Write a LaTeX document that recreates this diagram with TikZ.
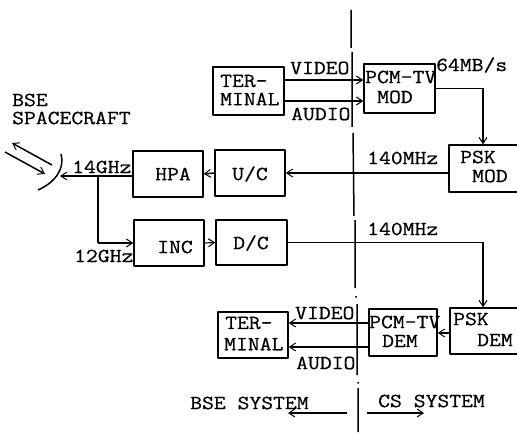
\documentclass[tikz,border=0pt]{standalone}
\usepackage{fontspec}
\setmainfont{Latin Modern Mono}[FakeStretch=1.15,FakeBold=0.6]
\usetikzlibrary{arrows.meta}
\tikzset{
  x=1pt,y=-1pt,
  block/.style={draw=black,line width=1.5pt,rectangle,inner sep=0pt,line join=round},
  lbl/.style={inner sep=0pt,font=\fontsize{20}{20}\selectfont,text=black},
  conn/.style={line width=1.5pt,draw=black,-{Straight Barb[length=6pt,width=8pt,line width=1pt]}},
  thin conn/.style={conn,line width=1.1pt},
  plainline/.style={line width=1.5pt,draw=black},
  divider/.style={line width=1.5pt,draw=black},
}
\newcommand{\boxat}[5]{\node[block,minimum width=#4-#2,minimum height=#5-#3] (#1) at ({(#2+#4)/2},{(#3+#5)/2}) {};}
\begin{document}
\begin{tikzpicture}
\useasboundingbox (0,0) rectangle (517,433);
% blocks
\boxat{term1}{213}{67}{284}{115}
\boxat{pcmmod}{364}{64}{435}{113}
\boxat{pskmod}{449}{145}{540}{192}
\boxat{hpa}{133}{151}{203}{197}
\boxat{uc}{215}{150}{285}{196}
\boxat{inc}{134}{220}{204}{266}
\boxat{dc}{216}{220}{287}{265}
\boxat{term2}{218}{312}{288}{358}
\boxat{pcmdem}{369}{309}{437}{356}
\boxat{pskdem}{450}{308}{540}{354}
% divider
\coordinate (d1) at (351,10); \coordinate (d2) at (351,48);
\coordinate (d3) at (352,52); \coordinate (d4) at (352,127);
\coordinate (d5) at (353,133); \coordinate (d6) at (354,216);
\coordinate (d7) at (355,220); \coordinate (d8) at (355,288);
\coordinate (d9) at (356,296); \coordinate (d10) at (356,297.5);
\coordinate (d11) at (357,304); \coordinate (d12) at (357,375);
\coordinate (d13) at (358,382); \coordinate (d14) at (358,383.5);
\coordinate (d15) at (358,388); \coordinate (d16) at (358,432);
\draw[divider] (d1)--(d2) (d3)--(d4) (d5)--(d6) (d7)--(d8) (d9)--(d10) (d11)--(d12) (d13)--(d14) (d15)--(d16);
% connectors
\draw[conn] ([yshift=11pt]term1.east) -- ([yshift=11pt]term1.east -| pcmmod.west);
\draw[conn] ([yshift=-10pt]term1.east) -- ([yshift=-10pt]term1.east -| pcmmod.west);
\draw[conn] (pcmmod.east) -| (pskmod.north -| {(483,0)});
\draw[conn] (pskmod.west |- uc.east) -- (uc.east);
\draw[conn] (uc.west) -- (hpa.east);
\coordinate (feed) at (60,176);
\coordinate (junc) at (98,176);
\draw[conn] (hpa.west |- feed) -- (feed);
\draw[plainline] (junc) |- (junc |- inc.west);
\draw[conn] (junc |- inc.west) -- (inc.west);
\draw[thin conn] (inc.east) -- (dc.west);
\draw[conn] (dc.east) -| (pskdem.north -| {(483,0)});
\draw[thin conn] (pskdem.west |- 0,333) -- (pcmdem.east |- 0,333);
\draw[thin conn] (pcmdem.west |- 0,323) -- (term2.east |- 0,323);
\draw[thin conn] (pcmdem.west |- 0,347) -- (term2.east |- 0,347);
% antenna
\coordinate (a1) at (61,154); \coordinate (a2) at (38,190);
\draw[plainline] (a1) .. controls (65,168) and (56,182) .. (a2);
\coordinate (b1) at (52,165); \coordinate (b2) at (12,143);
\coordinate (c1) at (5,152); \coordinate (c2) at (45,174);
\draw[conn] (b1) -- (b2);
\draw[conn] (c1) -- (c2);
% system arrows
\coordinate (sysmid1) at (347,413); \coordinate (sysl) at (288,413);
\coordinate (sysmid2) at (367,413); \coordinate (sysr) at (424,413);
\draw[conn,line width=1.1pt] (sysmid1) -- (sysl);
\draw[conn,line width=1.1pt] (sysmid2) -- (sysr);
% labels
\node[lbl,anchor=west] (tBSE) at (12,100) {BSE};
\node[lbl,anchor=west] (tSC) at (12,118) {SPACECRAFT};
\node[lbl,anchor=west] (t14) at (72,167) {14GHz};
\node[lbl,anchor=west] (t12) at (74,256) {12GHz};
\node[lbl] (tHPA) at (173,174) {HPA};
\node[lbl] (tUC) at (250,174) {U/C};
\node[lbl] (tINC) at (175,247) {INC};
\node[lbl] (tDC) at (251,243) {D/C};
\node[lbl,anchor=west] (tT1a) at (220,81) {TER-};
\node[lbl,anchor=west] (tT1b) at (220,99) {MINAL};
\node[lbl,anchor=west] (tV1) at (290,68) {VIDEO};
\node[lbl,anchor=west] (tA1) at (291,114) {AUDIO};
\node[lbl,anchor=west] (tPa) at (365,77) {PCM-TV};
\node[lbl,anchor=west] (tMa) at (377,97) {MOD};
\node[lbl,anchor=west] (t64) at (436,65) {64MB/s};
\node[lbl,anchor=west] (t140a) at (367,158) {140MHz};
\node[lbl,anchor=west] (tPSKa) at (460,157) {PSK};
\node[lbl,anchor=west] (tMOD) at (472,176) {MOD};
\node[lbl,anchor=west] (t140b) at (367,229) {140MHz};
\node[lbl,anchor=west] (tT2a) at (225,323) {TER-};
\node[lbl,anchor=west] (tT2b) at (224,344) {MINAL};
\node[lbl,anchor=west] (tV2) at (295,313) {VIDEO};
\node[lbl,anchor=west] (tA2) at (296,363) {AUDIO};
\node[lbl,anchor=west] (tPb) at (369,322) {PCM-TV};
\node[lbl,anchor=west] (tDb) at (382,341) {DEM};
\node[lbl,anchor=west] (tPSKb) at (453,319) {PSK};
\node[lbl,anchor=west] (tDEM) at (477,340) {DEM};
\node[lbl,anchor=west] (tBS) at (190,403) {BSE SYSTEM};
\node[lbl,anchor=west] (tCS) at (378,401) {CS SYSTEM};
\end{tikzpicture}
\end{document}
